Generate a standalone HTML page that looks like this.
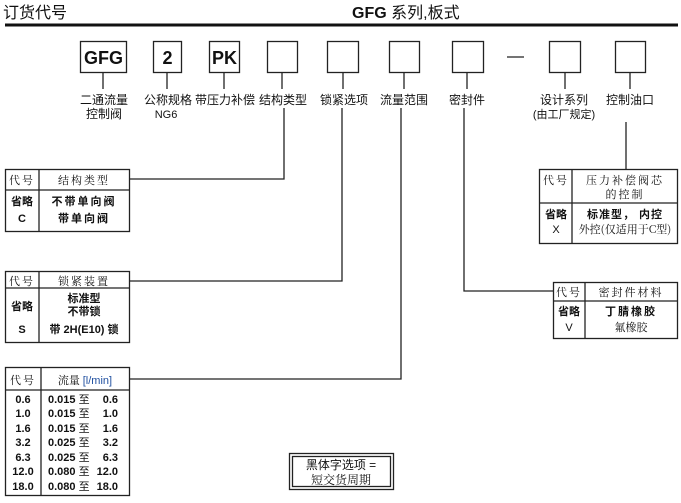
<!DOCTYPE html>
<html><head><meta charset="utf-8"><style>
html,body{margin:0;padding:0;background:#fff;}
svg{display:block;}
text{font-family:"Liberation Sans","Noto Sans CJK SC",sans-serif;fill:#111;}
.s{font-family:"Noto Serif CJK SC","Liberation Serif",serif;}
.b{font-weight:bold;}
</style></head><body>
<svg width="681" height="503" viewBox="0 0 681 503" xmlns="http://www.w3.org/2000/svg">
<text x="3" y="18" font-size="16">订货代号</text>
<text x="352" y="18" font-size="16"><tspan font-weight="bold">GFG</tspan> 系列,板式</text>
<rect x="5" y="23.5" width="673" height="3" fill="#111"/>

<g fill="none" stroke="#222" stroke-width="1.3">
<rect x="80.5" y="41.5" width="46" height="31"/>
<rect x="153.5" y="41.5" width="28" height="31"/>
<rect x="209.5" y="41.5" width="30" height="31"/>
<rect x="267.5" y="41.5" width="30" height="31"/>
<rect x="327.5" y="41.5" width="31" height="31"/>
<rect x="389.5" y="41.5" width="30" height="31"/>
<rect x="452.5" y="41.5" width="31" height="31"/>
<rect x="549.5" y="41.5" width="31" height="31"/>
<rect x="615.5" y="41.5" width="30" height="31"/>
<line x1="507" y1="57" x2="524" y2="57"/>
<line x1="103" y1="72" x2="103" y2="89"/>
<line x1="167" y1="72" x2="167" y2="89"/>
<line x1="224" y1="72" x2="224" y2="89"/>
<line x1="282" y1="72" x2="282" y2="89"/>
<line x1="343" y1="72" x2="343" y2="89"/>
<line x1="404" y1="72" x2="404" y2="89"/>
<line x1="467" y1="72" x2="467" y2="89"/>
<line x1="565" y1="72" x2="565" y2="89"/>
<line x1="630" y1="72" x2="630" y2="89"/>
<polyline points="284,108 284,179 130,179"/>
<polyline points="342,108 342,281 130,281"/>
<polyline points="401,108 401,379 130,379"/>
<polyline points="464,108 464,291 553,291"/>
<line x1="626" y1="122" x2="626" y2="169"/>
<rect x="5.5" y="169.5" width="124" height="62"/><line x1="5" y1="190" x2="130" y2="190"/><line x1="39" y1="169" x2="39" y2="232"/>
<rect x="5.5" y="271.5" width="124" height="71"/><line x1="5" y1="288" x2="130" y2="288"/><line x1="39" y1="271" x2="39" y2="342"/>
<rect x="5.5" y="367.5" width="124" height="128"/><line x1="5" y1="390" x2="130" y2="390"/><line x1="41" y1="367" x2="41" y2="496"/>
<rect x="539.5" y="169.5" width="138" height="74"/><line x1="539" y1="203" x2="678" y2="203"/><line x1="572" y1="169" x2="572" y2="244"/>
<rect x="553.5" y="282.5" width="124" height="56"/><line x1="553" y1="301" x2="678" y2="301"/><line x1="585" y1="282" x2="585" y2="339"/>
<rect x="289.5" y="453.5" width="104" height="36"/><rect x="292.5" y="456.5" width="98" height="30"/>
</g>

<g font-size="18" font-weight="bold" text-anchor="middle">
<text x="103.5" y="64">GFG</text><text x="167.5" y="64">2</text><text x="224.5" y="64">PK</text>
</g>
<g font-size="12" text-anchor="middle">
<text x="104" y="104">二通流量</text><text x="104" y="118">控制阀</text>
<text x="168" y="104">公称规格</text><text x="166" y="118" font-size="11" fill="#c05010">NG6</text>
<text x="225" y="104">带压力补偿</text>
<text x="283" y="104">结构类型</text>
<text x="344" y="104">锁紧选项</text>
<text x="404" y="104">流量范围</text>
<text x="467" y="104">密封件</text>
<text x="564" y="104">设计系列</text><text x="564" y="118" font-size="11">(由工厂规定)</text>
<text x="630" y="104">控制油口</text>
</g>

<g font-size="11" text-anchor="middle">
<text x="22" y="184" class="s" letter-spacing="2">代号</text><text x="84" y="184" class="s" letter-spacing="2">结构类型</text>
<text x="22" y="205" class="b">省略</text><text x="84" y="205" class="b" letter-spacing="2">不带单向阀</text>
<text x="22" y="222" class="b">C</text><text x="84" y="222" class="b" letter-spacing="2">带单向阀</text>

<text x="22" y="285" class="s" letter-spacing="2">代号</text><text x="84" y="285" class="s" letter-spacing="2">锁紧装置</text>
<text x="22" y="310" class="b">省略</text><text x="84" y="302" class="b">标准型</text><text x="84" y="315" class="b">不带锁</text>
<text x="22" y="333" class="b">S</text><text x="84" y="333" class="b">带 2H(E10) 锁</text>

<text x="23" y="384" class="s" letter-spacing="2">代号</text><text x="85" y="384"><tspan class="s">流量 </tspan><tspan fill="#2050a0">[l/min]</tspan></text>
</g>
<g font-size="11">
<text x="23" y="403" text-anchor="middle" font-weight="bold">0.6</text>
<text x="23" y="417" text-anchor="middle" font-weight="bold">1.0</text>
<text x="23" y="432" text-anchor="middle" font-weight="bold">1.6</text>
<text x="23" y="446" text-anchor="middle" font-weight="bold">3.2</text>
<text x="23" y="461" text-anchor="middle" font-weight="bold">6.3</text>
<text x="23" y="475" text-anchor="middle" font-weight="bold">12.0</text>
<text x="23" y="490" text-anchor="middle" font-weight="bold">18.0</text>
<text x="48" y="403" font-weight="bold">0.015 <tspan font-weight="normal">至</tspan></text><text x="118" y="403" text-anchor="end" font-weight="bold">0.6</text>
<text x="48" y="417" font-weight="bold">0.015 <tspan font-weight="normal">至</tspan></text><text x="118" y="417" text-anchor="end" font-weight="bold">1.0</text>
<text x="48" y="432" font-weight="bold">0.015 <tspan font-weight="normal">至</tspan></text><text x="118" y="432" text-anchor="end" font-weight="bold">1.6</text>
<text x="48" y="446" font-weight="bold">0.025 <tspan font-weight="normal">至</tspan></text><text x="118" y="446" text-anchor="end" font-weight="bold">3.2</text>
<text x="48" y="461" font-weight="bold">0.025 <tspan font-weight="normal">至</tspan></text><text x="118" y="461" text-anchor="end" font-weight="bold">6.3</text>
<text x="48" y="475" font-weight="bold">0.080 <tspan font-weight="normal">至</tspan></text><text x="118" y="475" text-anchor="end" font-weight="bold">12.0</text>
<text x="48" y="490" font-weight="bold">0.080 <tspan font-weight="normal">至</tspan></text><text x="118" y="490" text-anchor="end" font-weight="bold">18.0</text>
</g>

<g font-size="11" text-anchor="middle">
<text x="556" y="184" class="s" letter-spacing="2">代号</text><text x="625" y="184" class="s" letter-spacing="2">压力补偿阀芯</text><text x="625" y="198" class="s" letter-spacing="2">的控制</text>
<text x="556" y="218" class="b">省略</text><text x="625" y="218" class="b" letter-spacing="1">标准型， 内控</text>
<text x="556" y="233">X</text><text x="625" y="233" class="s">外控(仅适用于C型)</text>

<text x="569" y="296" class="s" letter-spacing="2">代号</text><text x="631" y="296" class="s" letter-spacing="2">密封件材料</text>
<text x="569" y="315" class="b">省略</text><text x="631" y="315" class="b" letter-spacing="2">丁腈橡胶</text>
<text x="569" y="331" fill="#2030a0">V</text><text x="631" y="331" class="s">氟橡胶</text>
</g>

<g font-size="12" text-anchor="middle">
<text x="341" y="469">黑体字选项 =</text>
<text x="341" y="484" class="s">短交货周期</text>
</g>
</svg>
</body></html>
